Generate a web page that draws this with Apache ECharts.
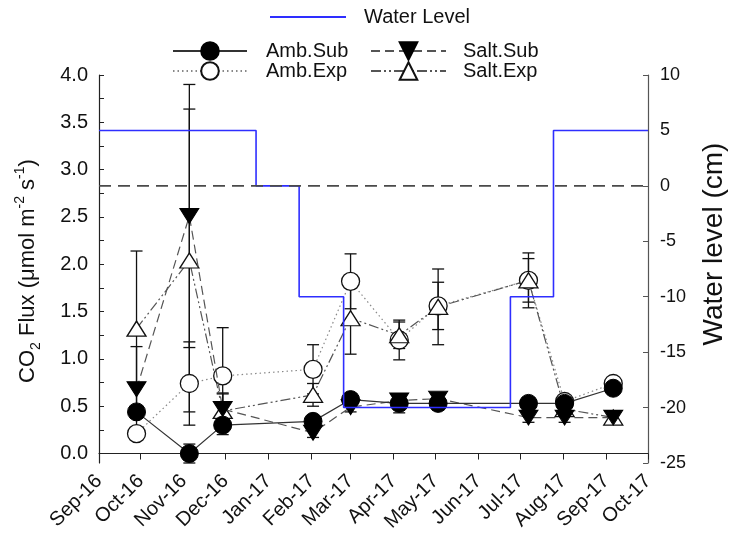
<!DOCTYPE html>
<html>
<head>
<meta charset="utf-8">
<title>CO2 flux and water level</title>
<script src="https://cdn.jsdelivr.net/npm/echarts@6/dist/echarts.min.js"></script>
<style>
  html, body { margin: 0; padding: 0; background: #fff; }
  #chart { width: 731px; height: 537px; }
</style>
</head>
<body>
<div id="chart"></div>
<script>
// Sampling dates
const sampleDates = ['2016-09-28', '2016-11-05', '2016-11-29', '2017-02-02', '2017-03-01',
  '2017-04-05', '2017-05-03', '2017-07-07', '2017-08-02', '2017-09-06'];

// CO2 flux means (µmol m-2 s-1) and standard errors
const ambSub = [0.44, 0.00, 0.30, 0.34, 0.57, 0.53, 0.53, 0.53, 0.53, 0.69];
const ambSubErr = [0.05, 0.10, 0.10, 0.06, 0.05, 0.10, 0.07, 0.05, 0.04, 0.03];
const ambExp = [0.21, 0.74, 0.82, 0.89, 1.82, 1.20, 1.56, 1.83, 0.55, 0.74];
const ambExpErr = [0.04, 0.44, 0.51, 0.26, 0.29, 0.21, 0.25, 0.23, 0.04, 0.03];
const saltSub = [0.68, 2.51, 0.47, 0.22, 0.49, 0.56, 0.58, 0.38, 0.38, 0.38];
const saltSubErr = [0.45, 1.39, 0.17, 0.05, 0.05, 0.06, 0.05, 0.05, 0.05, 0.03];
const saltExp = [1.32, 2.04, 0.45, 0.62, 1.43, 1.25, 1.55, 1.83, 0.47, 0.38];
const saltExpErr = [0.82, 1.60, 0.18, 0.12, 0.38, 0.14, 0.40, 0.29, 0.05, 0.03];

// Water level (cm): each value holds until the next date
const wlDates = ['2016-09-01', '2016-12-23', '2017-01-23', '2017-02-24', '2017-06-24', '2017-07-25', '2017-10-01'];
const wlValues = [5, 0, -10, -20, -10, 5, 5];

// Axis ranges and ticks
const xStart = '2016-09-01';
const xEnd = '2017-10-01';
const monthTicks = ['2016-09-01', '2016-10-01', '2016-11-01', '2016-12-01', '2017-01-01', '2017-02-01',
  '2017-03-01', '2017-04-01', '2017-05-01', '2017-06-01', '2017-07-01', '2017-08-01', '2017-09-01', '2017-10-01'];
const fluxLabels = [0, 0.5, 1.0, 1.5, 2.0, 2.5, 3.0, 3.5, 4.0];
const fluxTicks = [0, 0.25, 0.5, 0.75, 1.0, 1.25, 1.5, 1.75, 2.0, 2.25, 2.5, 2.75, 3.0, 3.25, 3.5, 3.75, 4.0];

const MONTHS = ['Jan', 'Feb', 'Mar', 'Apr', 'May', 'Jun', 'Jul', 'Aug', 'Sep', 'Oct', 'Nov', 'Dec'];
const ts = s => { const p = s.split('-').map(Number); return Date.UTC(p[0], p[1] - 1, p[2]); };
const FONT = 'Arial, "Liberation Sans", sans-serif';

function pairs(dates, vals) { return dates.map((d, i) => [ts(d), vals[i]]); }

function errorBars(name, vals, errs) {
  return {
    type: 'custom',
    name: name + ' SE',
    xAxisIndex: 0,
    yAxisIndex: 0,
    z: 2,
    silent: true,
    data: sampleDates.map((d, i) => [ts(d), vals[i] - errs[i], vals[i] + errs[i]]),
    renderItem: function (params, api) {
      const x = api.value(0);
      const lo = api.coord([x, api.value(1)]);
      const hi = api.coord([x, api.value(2)]);
      const w = 6;
      const st = { stroke: '#111', lineWidth: 1.3 };
      return {
        type: 'group',
        children: [
          { type: 'line', shape: { x1: lo[0], y1: lo[1], x2: hi[0], y2: hi[1] }, style: st },
          { type: 'line', shape: { x1: lo[0] - w, y1: lo[1], x2: lo[0] + w, y2: lo[1] }, style: st },
          { type: 'line', shape: { x1: hi[0] - w, y1: hi[1], x2: hi[0] + w, y2: hi[1] }, style: st }
        ]
      };
    }
  };
}

const chart = echarts.init(document.getElementById('chart'), null, { renderer: 'canvas' });

const legendText = { fontSize: 20, color: '#111', fontFamily: FONT };

const option = {
  animation: false,
  backgroundColor: '#fff',
  textStyle: { fontFamily: FONT },
  grid: { left: 99, right: 83, top: 75, bottom: 74, containLabel: false },
  legend: [
    {
      data: [{ name: 'Water Level', icon: 'rect' }],
      left: 265, top: 2,
      padding: 5,
      itemWidth: 76, itemHeight: 2,
      textStyle: Object.assign({ padding: [0, 0, 0, 13] }, legendText),
      selectedMode: false
    },
    {
      data: ['Amb.Sub', 'Amb.Exp'],
      orient: 'vertical',
      left: 167, top: 36,
      padding: 5,
      itemWidth: 74, itemHeight: 22, itemGap: 0,
      textStyle: Object.assign({ padding: [0, 0, 0, 14] }, legendText),
      selectedMode: false
    },
    {
      data: ['Salt.Sub', 'Salt.Exp'],
      orient: 'vertical',
      left: 365, top: 36,
      padding: 5,
      itemWidth: 75, itemHeight: 22, itemGap: 0,
      textStyle: Object.assign({ padding: [0, 0, 0, 12] }, legendText),
      selectedMode: false
    }
  ],
  xAxis: {
    type: 'value',
    min: ts(xStart),
    max: ts(xEnd),
    axisLine: { show: true, lineStyle: { color: '#222', width: 1.2 } },
    axisTick: { show: true, inside: false, length: 6, customValues: monthTicks.map(ts), lineStyle: { color: '#222' } },
    axisLabel: {
      customValues: monthTicks.map(ts),
      rotate: 45,
      margin: 15,
      fontSize: 20,
      color: '#111',
      fontFamily: FONT,
      formatter: function (v) {
        const d = new Date(v);
        return MONTHS[d.getUTCMonth()] + '-' + String(d.getUTCFullYear()).slice(2);
      }
    },
    splitLine: { show: false }
  },
  yAxis: [
    {
      type: 'value',
      position: 'left',
      min: -0.1,
      max: 4.0,
      axisLine: { show: true, lineStyle: { color: '#222', width: 1.2 } },
      axisTick: { show: true, inside: true, length: 5, customValues: fluxTicks, lineStyle: { color: '#222' } },
      axisLabel: {
        customValues: fluxLabels,
        margin: 11,
        fontSize: 20,
        color: '#111',
        fontFamily: FONT,
        formatter: v => Number(v).toFixed(1)
      },
      splitLine: { show: false }
    },
    {
      type: 'value',
      position: 'right',
      min: -25,
      max: 10,
      interval: 5,
      axisLine: { show: true, lineStyle: { color: '#555', width: 1.2 } },
      axisTick: { show: true, inside: true, length: 5, lineStyle: { color: '#555' } },
      axisLabel: { margin: 12, fontSize: 18, color: '#111', fontFamily: FONT },
      splitLine: { show: false }
    }
  ],
  graphic: [
    {
      type: 'text',
      x: 28, y: 271,
      rotation: Math.PI / 2,
      style: {
        text: '{a|CO}{b|2}{a| Flux (μmol m}{c|-2}{a| s}{c|-1}{a|)}',
        align: 'center',
        verticalAlign: 'middle',
        fill: '#111',
        rich: {
          a: { fontSize: 22, fontFamily: FONT, lineHeight: 30, fill: '#111' },
          b: { fontSize: 14, fontFamily: FONT, lineHeight: 14, verticalAlign: 'bottom', fill: '#111' },
          c: { fontSize: 14, fontFamily: FONT, lineHeight: 14, verticalAlign: 'top', fill: '#111' }
        }
      }
    },
    {
      type: 'text',
      x: 714, y: 244,
      rotation: Math.PI / 2,
      style: {
        text: 'Water level (cm)',
        align: 'center',
        verticalAlign: 'middle',
        fontSize: 28,
        fontFamily: FONT,
        fill: '#111'
      }
    }
  ],
  series: [
    {
      name: 'Water Level',
      type: 'line',
      yAxisIndex: 1,
      step: 'end',
      symbol: 'none',
      z: 6,
      color: '#2e2eff',
      lineStyle: { color: '#2e2eff', width: 1.6 },
      data: pairs(wlDates, wlValues)
    },
    {
      name: 'Zero',
      type: 'line',
      yAxisIndex: 1,
      symbol: 'none',
      z: 7,
      lineStyle: { color: '#4a4a4a', width: 1.6, type: [12, 7] },
      data: [[ts(xStart), 0], [ts(xEnd), 0]]
    },
    errorBars('Amb.Sub', ambSub, ambSubErr),
    errorBars('Amb.Exp', ambExp, ambExpErr),
    errorBars('Salt.Sub', saltSub, saltSubErr),
    errorBars('Salt.Exp', saltExp, saltExpErr),
    {
      name: 'Amb.Exp',
      type: 'line',
      z: 3,
      symbol: 'circle',
      symbolSize: 18,
      itemStyle: { color: '#fff', borderColor: '#111', borderWidth: 1.3 },
      lineStyle: { color: '#888', width: 1.2, type: [1.5, 3] },
      data: pairs(sampleDates, ambExp)
    },
    {
      name: 'Salt.Exp',
      type: 'line',
      z: 3,
      symbol: 'triangle',
      symbolSize: [19, 15],
      itemStyle: { color: '#fff', borderColor: '#111', borderWidth: 1.3 },
      lineStyle: { color: '#555', width: 1.2, type: [10, 3, 2, 3, 2, 3] },
      data: pairs(sampleDates, saltExp)
    },
    {
      name: 'Salt.Sub',
      type: 'line',
      z: 4,
      symbol: 'triangle',
      symbolRotate: 180,
      symbolSize: [19, 15],
      itemStyle: { color: '#000', borderColor: '#000', borderWidth: 1 },
      lineStyle: { color: '#555', width: 1.2, type: [9, 5] },
      data: pairs(sampleDates, saltSub)
    },
    {
      name: 'Amb.Sub',
      type: 'line',
      z: 4,
      symbol: 'circle',
      symbolSize: 18,
      itemStyle: { color: '#000', borderColor: '#000', borderWidth: 1 },
      lineStyle: { color: '#333', width: 1.2 },
      data: pairs(sampleDates, ambSub)
    }
  ]
};

chart.setOption(option);
</script>
</body>
</html>
